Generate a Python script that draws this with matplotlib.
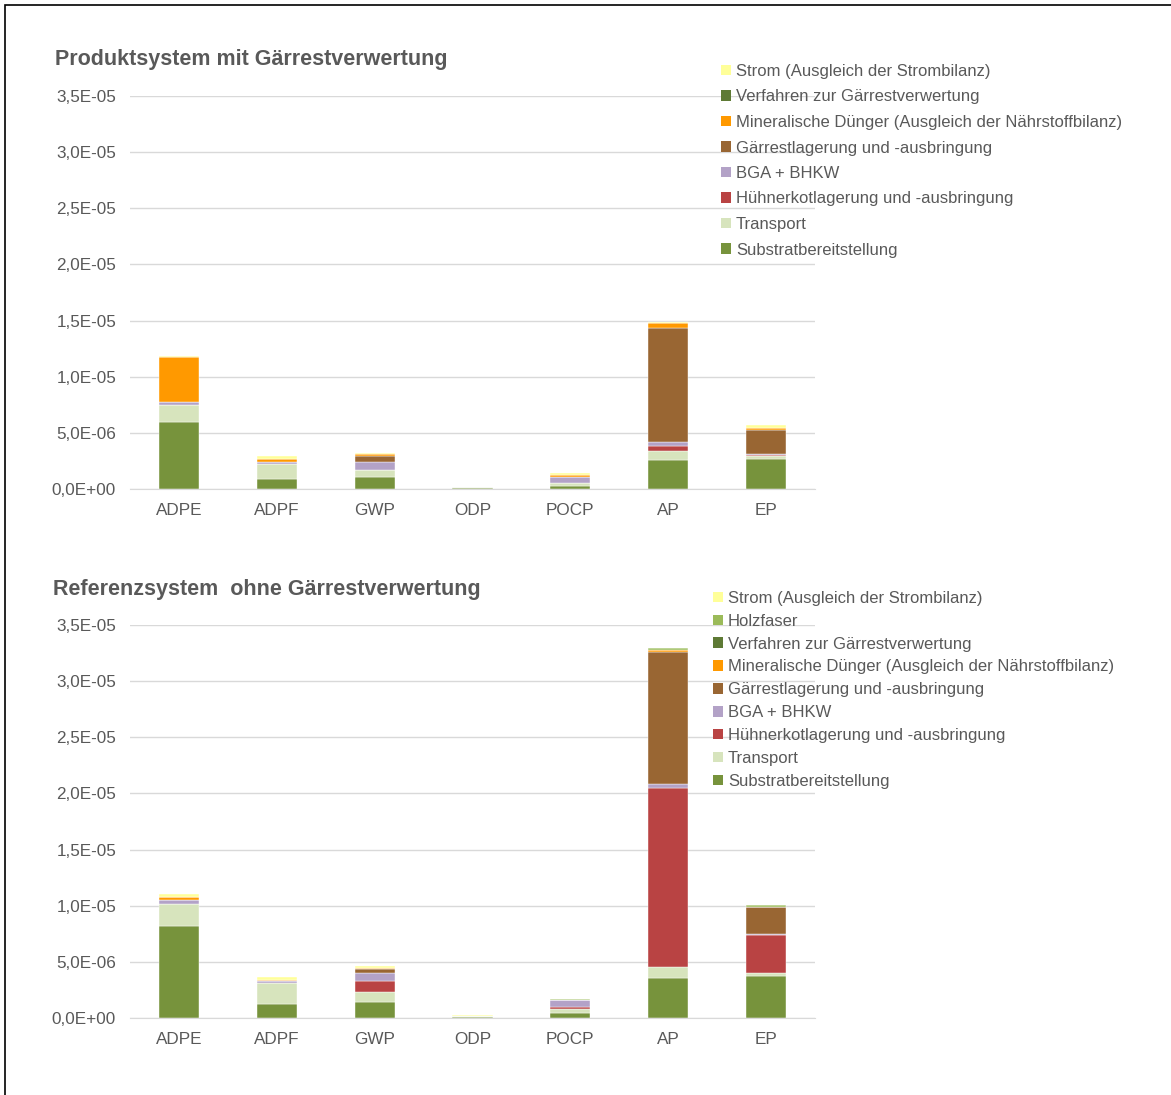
import matplotlib
matplotlib.use("Agg")
import matplotlib.pyplot as plt
from matplotlib.patches import Patch, Rectangle
from matplotlib.ticker import FuncFormatter, MultipleLocator
import numpy as np

plt.rcParams["font.family"] = ["Liberation Sans", "DejaVu Sans"]

categories = ["ADPE", "ADPF", "GWP", "ODP", "POCP", "AP", "EP"]

# values in 1e-6 units, stacked bottom -> top
# Produktsystem mit Gärrestverwertung
top_substrat = [6.00, 0.86, 1.04, 0.09, 0.30, 2.55, 2.70]
top_transport = [1.48, 1.39, 0.62, 0.06, 0.23, 0.83, 0.24]
top_huehnerkot = [0.00, 0.00, 0.00, 0.00, 0.00, 0.48, 0.09]
top_bga = [0.30, 0.15, 0.77, 0.00, 0.57, 0.33, 0.12]
top_gaerrest = [0.00, 0.00, 0.54, 0.00, 0.00, 10.18, 2.13]
top_mineral = [3.95, 0.30, 0.12, 0.00, 0.15, 0.38, 0.18]
top_verfahren = [0.00, 0.00, 0.00, 0.00, 0.00, 0.00, 0.00]
top_strom = [0.14, 0.24, 0.09, 0.06, 0.17, 0.12, 0.21]

# Referenzsystem ohne Gärrestverwertung
ref_substrat = [8.16, 1.25, 1.42, 0.09, 0.42, 3.56, 3.74]
ref_transport = [2.02, 1.87, 0.90, 0.06, 0.35, 0.98, 0.24]
ref_huehnerkot = [0.00, 0.00, 0.95, 0.00, 0.21, 15.97, 3.38]
ref_bga = [0.30, 0.15, 0.71, 0.00, 0.65, 0.35, 0.12]
ref_gaerrest = [0.00, 0.00, 0.38, 0.00, 0.00, 11.73, 2.43]
ref_mineral = [0.30, 0.14, 0.12, 0.00, 0.00, 0.21, 0.00]
ref_verfahren = [0.00, 0.00, 0.00, 0.00, 0.00, 0.00, 0.00]
ref_holzfaser = [0.00, 0.00, 0.00, 0.06, 0.06, 0.15, 0.12]
ref_strom = [0.23, 0.27, 0.15, 0.10, 0.00, 0.00, 0.00]

labels = {
    "substrat": "Substratbereitstellung",
    "transport": "Transport",
    "huehnerkot": "Hühnerkotlagerung und -ausbringung",
    "bga": "BGA + BHKW",
    "gaerrest": "Gärrestlagerung und -ausbringung",
    "mineral": "Mineralische Dünger (Ausgleich der Nährstoffbilanz)",
    "verfahren": "Verfahren zur Gärrestverwertung",
    "holzfaser": "Holzfaser",
    "strom": "Strom (Ausgleich der Strombilanz)",
}
colors = {
    "substrat": "#77933C",
    "transport": "#D7E4BD",
    "huehnerkot": "#B94343",
    "bga": "#B3A2C7",
    "gaerrest": "#996633",
    "mineral": "#FF9900",
    "verfahren": "#5E7A35",
    "holzfaser": "#9BBB59",
    "strom": "#FFFF99",
}

top_series = [
    ("substrat", top_substrat), ("transport", top_transport),
    ("huehnerkot", top_huehnerkot), ("bga", top_bga),
    ("gaerrest", top_gaerrest), ("mineral", top_mineral),
    ("verfahren", top_verfahren), ("strom", top_strom),
]
ref_series = [
    ("substrat", ref_substrat), ("transport", ref_transport),
    ("huehnerkot", ref_huehnerkot), ("bga", ref_bga),
    ("gaerrest", ref_gaerrest), ("mineral", ref_mineral),
    ("verfahren", ref_verfahren), ("holzfaser", ref_holzfaser),
    ("strom", ref_strom),
]

TXT = "#595959"
GRID = "#D9D9D9"
W, H = 1171, 1095


def fmt(v, _):
    if v == 0:
        return "0,0E+00"
    return f"{v:.1E}".replace(".", ",")


def draw(ax, series, title, title_pos, legend_pos, spacing):
    x = np.arange(len(categories))
    bottom = np.zeros(len(categories))
    for key, vals in series:
        v = np.array(vals) * 1e-6
        ax.bar(x, v, 0.41, bottom=bottom, color=colors[key],
               edgecolor="white", linewidth=0.3, zorder=3)
        bottom += v
    ax.set_xlim(-0.5, len(categories) - 0.5)
    ax.set_ylim(0, 3.5e-5)
    ax.yaxis.set_major_locator(MultipleLocator(5e-6))
    ax.yaxis.set_major_formatter(FuncFormatter(fmt))
    ax.grid(axis="y", color=GRID, linewidth=1, zorder=0)
    ax.set_xticks(x)
    ax.set_xticklabels(categories)
    ax.tick_params(axis="both", length=0, labelsize=12.3, labelcolor=TXT)
    ax.tick_params(axis="y", pad=10)
    ax.tick_params(axis="x", pad=10)
    for s in ["top", "right", "left"]:
        ax.spines[s].set_visible(False)
    ax.spines["bottom"].set_color(GRID)
    ax.spines["bottom"].set_zorder(4)

    fig = ax.figure
    fig.text(title_pos[0] / W, 1 - title_pos[1] / H, title, fontsize=15.5,
             fontweight="bold", color=TXT, va="center", ha="left")

    handles = [Patch(facecolor=colors[k], edgecolor="none", label=labels[k])
               for k, _ in reversed(series)]
    ax.legend(handles=handles, loc="upper left",
              bbox_to_anchor=(legend_pos[0] / W, 1 - legend_pos[1] / H),
              bbox_transform=fig.transFigure, frameon=False,
              fontsize=12, labelcolor=TXT, handlelength=0.6,
              handleheight=0.6, handletextpad=0.3, labelspacing=spacing,
              borderpad=0, borderaxespad=0)


fig = plt.figure(figsize=(W / 100, H / 100), dpi=100)
ax1 = fig.add_axes([130 / W, 1 - 489 / H, 685 / W, 393 / H])
ax2 = fig.add_axes([130 / W, 1 - 1018 / H, 685 / W, 393 / H])

draw(ax1, top_series, "Produktsystem mit Gärrestverwertung", (55, 60),
     (721, 64), 0.63)
draw(ax2, ref_series, "Referenzsystem  ohne Gärrestverwertung", (53, 589),
     (713, 591), 0.47)

# outer frame of the chart area
fig.patches.append(Rectangle((5 / W, -0.1), 1.2, 1 - 5 / H + 0.1,
                             transform=fig.transFigure, fill=False,
                             edgecolor="black", linewidth=1.2))

fig.savefig("out.png", dpi=100)
